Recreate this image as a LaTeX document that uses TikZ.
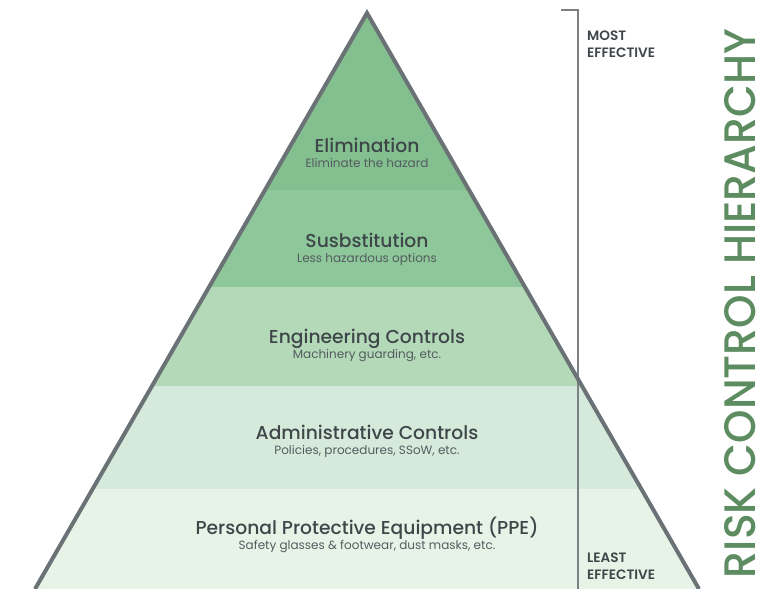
\documentclass[tikz,border=0pt]{standalone}
\usepackage{fontspec}
\usepackage{graphicx}
\setmainfont{Poppins}
\newfontfamily\medfont{Poppins Medium}
\newfontfamily\semifont{Poppins SemiBold}

\definecolor{bandA}{HTML}{83BF8F}
\definecolor{bandB}{HTML}{8DC79A}
\definecolor{bandC}{HTML}{B3D9B8}
\definecolor{bandD}{HTML}{D5EADB}
\definecolor{bandE}{HTML}{E8F3E7}
\definecolor{edge}{HTML}{6B7276}
\definecolor{rule}{HTML}{7B8185}
\definecolor{ink}{HTML}{3E4649}
\definecolor{inksub}{HTML}{545C60}
\definecolor{headgreen}{HTML}{5C8C60}

\begin{document}
\begin{tikzpicture}[x=1pt,y=-1pt,
  ttl/.style={font=\medfont\fontsize{18.7}{20}\selectfont, text=ink, inner sep=0pt, anchor=base},
  subttl/.style={font=\fontsize{12}{13}\selectfont, text=inksub, inner sep=0pt, anchor=base},
  tag/.style={font=\semifont\fontsize{13.6}{15}\selectfont, text=ink, inner sep=0pt, anchor=base west},
  outline/.style={draw=edge, line width=4pt, line join=miter},
  bracket/.style={draw=rule, line width=1.3pt}]
\useasboundingbox (0,0) rectangle (782,589);

% pyramid corners
\coordinate (apex) at (367,13);
\coordinate (bl) at (35,589);
\coordinate (br) at (699,589);

% coloured bands, cut to the pyramid
\begin{scope}
  \clip (apex) -- (bl) -- (br) -- cycle;
  \fill[bandA] (0,0)   rectangle (782,190);
  \fill[bandB] (0,190) rectangle (782,287);
  \fill[bandC] (0,287) rectangle (782,386);
  \fill[bandD] (0,386) rectangle (782,489);
  \fill[bandE] (0,489) rectangle (782,589);
\end{scope}

% effectiveness bracket
\coordinate (bkTick) at (561,10);
\coordinate (bkTop) at (578,10);
\coordinate (bkFoot) at (578,589);
\draw[bracket] (bkTick) -- (bkTop) -- (bkFoot);

% pyramid sides
\draw[outline] (bl) -- (apex) -- (br);

% band labels
\node[ttl] (elim) at (367,152) {Elimination};
\node[subttl] (elimS) at (367,167) {Eliminate the hazard};
\node[ttl] (subs) at (367,247) {Susbstitution};
\node[subttl] (subsS) at (367,262) {Less hazardous options};
\node[ttl] (eng) at (367,343) {Engineering Controls};
\node[subttl] (engS) at (367,358) {Machinery guarding, etc.};
\node[ttl] (adm) at (367,439) {Administrative Controls};
\node[subttl] (admS) at (367,454) {Policies, procedures, SSoW, etc.};
\node[ttl] (ppe) at (367,534) {Personal Protective Equipment (PPE)};
\node[subttl] (ppeS) at (367,549) {Safety glasses \& footwear, dust masks, etc.};

% bracket ends
\node[tag] (mostA) at (587,40) {MOST};
\node[tag] (mostB) at (587,57) {EFFECTIVE};
\node[tag] (leastA) at (587,562) {LEAST};
\node[tag] (leastB) at (587,579) {EFFECTIVE};

% heading
\node[rotate=90, inner sep=0pt, text=headgreen] (heading) at (740.5,303.5)
  {\resizebox{549pt}{31pt}{\medfont RISK CONTROL HIERARCHY}};
\end{tikzpicture}
\end{document}
